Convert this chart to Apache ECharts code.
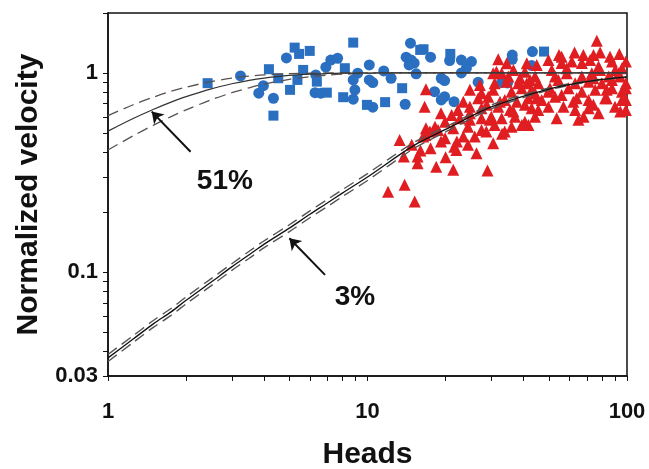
<!DOCTYPE html>
<html>
<head>
<meta charset="utf-8">
<script src="https://cdn.jsdelivr.net/npm/echarts@6/dist/echarts.min.js"></script>
<style>
  html, body { margin: 0; padding: 0; background: #fff; }
  #chart { width: 649px; height: 469px; }
</style>
</head>
<body>
<div id="chart"></div>
<script>
// axis ticks / labels
var xTickValues = [1, 2, 3, 4, 5, 6, 7, 8, 9, 10, 20, 30, 40, 50, 60, 70, 80, 90, 100];
var xLabelValues = [1, 10, 100];
var yTickValues = [0.03, 0.04, 0.05, 0.06, 0.07, 0.08, 0.09, 0.1, 0.2, 0.3, 0.4, 0.5, 0.6, 0.7, 0.8, 0.9, 1, 2];
var yLabelValues = [0.03, 0.1, 1];

// measured points (heads, normalized velocity)
var blueCircles = [
  [3.24, 0.966], [3.97, 0.863], [3.81, 0.791], [4.34, 0.746], [4.87, 1.19], [6.32, 0.977],
  [6.28, 0.796], [6.61, 0.791], [6.91, 1.068], [7.22, 1.16], [7.67, 1.185], [9.17, 0.997],
  [8.81, 0.922], [8.94, 0.822], [8.81, 0.738], [10.16, 1.097], [10.16, 0.922], [10.48, 0.894],
  [10.48, 0.673], [11.55, 1.023], [12.33, 0.94], [13.97, 0.696], [14.64, 1.41], [14.09, 1.2],
  [14.73, 1.16], [15.13, 1.12], [14.47, 1.097], [15.4, 0.989], [17.5, 1.2], [20.72, 1.153],
  [23.0, 1.16], [25.15, 1.14], [24.05, 1.056], [23.0, 1.0], [19.24, 0.94], [19.82, 0.915],
  [18.13, 0.805], [19.82, 0.76], [19.24, 0.732], [21.56, 0.717], [26.69, 0.898], [32.85, 0.894],
  [34.64, 0.891], [36.13, 1.23], [36.13, 1.17], [43.2, 1.28], [42.9, 1.088]
];
var blueSquares = [
  [2.42, 0.888], [4.17, 1.044], [4.53, 0.94], [4.34, 0.61], [5.03, 0.822], [5.24, 1.34],
  [5.45, 1.246], [5.99, 1.29], [5.65, 1.035], [5.37, 0.922], [6.38, 0.904], [6.97, 0.796],
  [8.18, 1.056], [8.06, 0.755], [8.81, 1.42], [9.95, 0.691], [11.69, 0.713], [13.6, 0.838],
  [15.96, 1.305], [16.44, 1.315], [20.85, 1.246], [47.9, 1.28]
];
var redTriangles = [
  [13.3, 0.46], [12.0, 0.253], [13.9, 0.274], [15.2, 0.226], [18.4, 0.338], [21.4, 0.326],
  [29.0, 0.323], [20.0, 0.377], [15.6, 0.352], [15.6, 0.38], [16.0, 0.407], [13.8, 0.38],
  [17.5, 0.418], [22.0, 0.41], [21.6, 0.426], [26.3, 0.395], [24.4, 0.435], [23.4, 0.479],
  [19.2, 0.452], [30.5, 0.443], [33.0, 0.494], [28.7, 0.507], [25.9, 0.479], [16.4, 0.479],
  [76.5, 1.45], [62.8, 1.265], [74.3, 1.23], [78.8, 1.265], [93.4, 1.246], [31.9, 1.17],
  [54.7, 1.23], [72.1, 1.16], [56.0, 1.12], [61.3, 1.14], [67.0, 1.12], [87.5, 1.14], [99, 1.14],
  [31.4, 1.015], [36.5, 1.035], [40.4, 1.015], [51.3, 1.035], [58.6, 1.056], [77.7, 1.076],
  [90.1, 1.035], [95.6, 1.056],
  [30.5, 0.997], [32.9, 0.997], [44.2, 0.958], [52.8, 0.958], [67.0, 0.958], [73.2, 0.997],
  [85.0, 0.958], [92.9, 0.997],
  [30.9, 0.888], [34.3, 0.904], [38.1, 0.888], [42.3, 0.922], [45.5, 0.888], [54.4, 0.922],
  [63.1, 0.888], [71.1, 0.904], [80.0, 0.888], [87.5, 0.922], [99, 0.888],
  [16.8, 0.828], [24.8, 0.822], [27.5, 0.791], [30.5, 0.822], [35.9, 0.805], [39.3, 0.838],
  [44.2, 0.791], [49.8, 0.805], [59.5, 0.838], [67.0, 0.805], [75.4, 0.822], [87.5, 0.838],
  [95.6, 0.805],
  [26.7, 0.746], [29.2, 0.76], [33.8, 0.732], [41.7, 0.746], [46.9, 0.732], [52.8, 0.76],
  [64.0, 0.746], [71.1, 0.732], [82.4, 0.746], [95.6, 0.732],
  [16.6, 0.677], [19.2, 0.627], [22.3, 0.652], [24.8, 0.677], [27.5, 0.665], [31.9, 0.677],
  [35.4, 0.652], [40.4, 0.691], [45.5, 0.652], [49.8, 0.677], [56.9, 0.677], [63.1, 0.652],
  [71.1, 0.665], [77.7, 0.627], [94.2, 0.639], [99, 0.652],
  [22.7, 0.592], [24.8, 0.581], [27.5, 0.592], [30.0, 0.603], [32.9, 0.592], [37.0, 0.603],
  [40.4, 0.569], [44.2, 0.603], [53.6, 0.592], [65.0, 0.581], [68.0, 0.603],
  [16.8, 0.527], [18.7, 0.517], [21.4, 0.527], [24.4, 0.537], [27.5, 0.517], [30.9, 0.548],
  [33.8, 0.507], [39.3, 0.548],
  [41.1, 0.888], [42.9, 0.822], [44.9, 0.746], [42.9, 0.665], [37.6, 0.717], [36.5, 0.639],
  [32.4, 0.717], [28.8, 0.691], [23.4, 0.717], [21.1, 0.615], [19.9, 0.569], [18.2, 0.537],
  [17.4, 0.507], [62.1, 0.717], [74.2, 0.691], [83.5, 0.746], [89.9, 0.677], [99, 0.732],
  [78.7, 1.035], [86.0, 1.207], [67.9, 1.232], [56.0, 1.207], [49.8, 1.162], [44.9, 1.097],
  [41.1, 1.119], [34.4, 1.119], [38.7, 0.94], [34.9, 0.958], [58.6, 0.997], [74.2, 0.94],
  [94.0, 0.958], [99, 0.838], [83.5, 0.822], [56.0, 0.775], [50.5, 0.838], [27.1, 0.87],
  [24.8, 0.627], [29.6, 0.581], [35.9, 0.537], [41.7, 0.548],
  [16.7, 0.488], [19.9, 0.47], [22.1, 0.452], [14.8, 0.435]
];

// curves
var curveHeads = [1, 1.25, 1.5, 1.75, 2, 2.5, 3, 3.5, 4, 5, 6, 7, 8, 10, 15, 20, 30, 50, 70, 100];
var fit51 =   [0.51, 0.59, 0.657, 0.713, 0.76, 0.832, 0.882, 0.918, 0.942, 0.972, 0.986, 0.993, 0.997, 0.999, 1, 1, 1, 1, 1, 1];
var fit51Hi = [0.61, 0.692, 0.756, 0.808, 0.848, 0.905, 0.941, 0.963, 0.977, 0.991, 0.996, 0.999, 1, 1, 1, 1, 1, 1, 1, 1];
var fit51Lo = [0.41, 0.483, 0.547, 0.603, 0.652, 0.733, 0.795, 0.842, 0.879, 0.929, 0.958, 0.975, 0.985, 0.995, 1, 1, 1, 1, 1, 1];
var fit3 =    [0.037, 0.046, 0.055, 0.063, 0.072, 0.089, 0.106, 0.122, 0.138, 0.166, 0.195, 0.222, 0.249, 0.30, 0.43, 0.52, 0.675, 0.83, 0.905, 0.955];
var fit3Hi =  [0.0385, 0.0478, 0.0572, 0.0655, 0.0749, 0.0926, 0.110, 0.127, 0.1435, 0.1726, 0.2028, 0.231, 0.259, 0.312, 0.445, 0.535, 0.69, 0.84, 0.91, 0.958];
var fit3Lo =  [0.0355, 0.0442, 0.0528, 0.0605, 0.0691, 0.0854, 0.1018, 0.1171, 0.1325, 0.1594, 0.1872, 0.213, 0.239, 0.288, 0.415, 0.505, 0.66, 0.82, 0.90, 0.952];

// annotations (data coords)
var arrows = [
  [[2.08, 0.402], [1.474, 0.639]],
  [[6.86, 0.0966], [5.0, 0.1477]]
];
var notes = [[2.82, 0.287, '51%'], [8.95, 0.0749, '3%']];

function zip(xs, ys) {
  return xs.map(function (x, i) { return [x, ys[i]]; });
}

function fitLine(ys, color, width, dashed) {
  return {
    type: 'line',
    data: zip(curveHeads, ys),
    smooth: 0.3,
    symbol: 'none',
    silent: true,
    z: 5,
    lineStyle: { color: color, width: width, type: dashed ? [11, 6] : 'solid' }
  };
}

var chart = echarts.init(document.getElementById('chart'));
var txt = '#111';
var fontFam = '"Liberation Sans", Arial, sans-serif';

var option = {
  animation: false,
  backgroundColor: '#fff',
  grid: {
    left: 108, right: 22, top: 13, bottom: 93,
    outerBoundsMode: 'none', containLabel: false,
    show: true, borderColor: '#111', borderWidth: 1.5
  },
  xAxis: {
    type: 'log', logBase: 10, min: 1, max: 100,
    name: 'Heads', nameLocation: 'middle', nameGap: 64,
    nameTextStyle: { fontSize: 30, fontWeight: 'bold', color: txt, fontFamily: fontFam },
    axisLine: { lineStyle: { color: '#111', width: 1.5 } },
    axisTick: { show: true, length: 5, lineStyle: { color: '#111' }, customValues: xTickValues },
    minorTick: { show: false },
    axisLabel: {
      customValues: xLabelValues, fontSize: 22, fontWeight: 'bold', color: txt,
      fontFamily: fontFam, margin: 25,
      formatter: function (v) { return String(Math.round(v)); }
    },
    splitLine: { show: false }
  },
  yAxis: {
    type: 'log', logBase: 10, min: 0.03, max: 2,
    name: 'Normalized velocity', nameLocation: 'middle', nameGap: 64,
    nameTextStyle: { fontSize: 30, fontWeight: 'bold', color: txt, fontFamily: fontFam },
    axisLine: { lineStyle: { color: '#111', width: 1.5 } },
    axisTick: { show: true, length: 5, lineStyle: { color: '#111' }, customValues: yTickValues },
    minorTick: { show: false },
    axisLabel: {
      customValues: yLabelValues, fontSize: 22, fontWeight: 'bold', color: txt,
      fontFamily: fontFam, margin: 10,
      formatter: function (v) { return String(+v.toPrecision(2)); }
    },
    splitLine: { show: false }
  },
  series: [
    {
      type: 'scatter', data: blueCircles, symbol: 'circle', symbolSize: 11,
      itemStyle: { color: '#2a6fc0', opacity: 1 }, z: 2
    },
    {
      type: 'scatter', data: blueSquares, symbol: 'rect', symbolSize: 10,
      itemStyle: { color: '#2a6fc0', opacity: 1 }, z: 2
    },
    {
      type: 'scatter', data: redTriangles, symbol: 'triangle', symbolSize: 12,
      itemStyle: { color: '#e01e22', opacity: 1 }, z: 3
    },
    fitLine(fit51Hi, '#5a5050', 1.3, true),
    fitLine(fit51Lo, '#5a5050', 1.3, true),
    fitLine(fit51, '#333', 1.2, false),
    fitLine(fit3Hi, '#555', 1.4, true),
    fitLine(fit3Lo, '#555', 1.4, true),
    fitLine(fit3, '#111', 1.3, false),
    {
      type: 'lines', coordinateSystem: 'cartesian2d', silent: true, z: 6,
      symbol: ['none', 'arrow'], symbolSize: 11,
      lineStyle: { color: '#111', width: 2, opacity: 1 },
      data: arrows.map(function (a) { return { coords: a }; })
    },
    {
      type: 'scatter', silent: true, z: 6, symbolSize: 1,
      itemStyle: { color: 'rgba(0,0,0,0)', opacity: 1 },
      data: notes,
      label: {
        show: true, position: 'inside', color: txt, fontSize: 28, fontWeight: 'bold',
        fontFamily: fontFam, opacity: 1,
        formatter: function (p) { return p.data[2]; }
      }
    }
  ]
};

chart.setOption(option);
</script>
</body>
</html>
